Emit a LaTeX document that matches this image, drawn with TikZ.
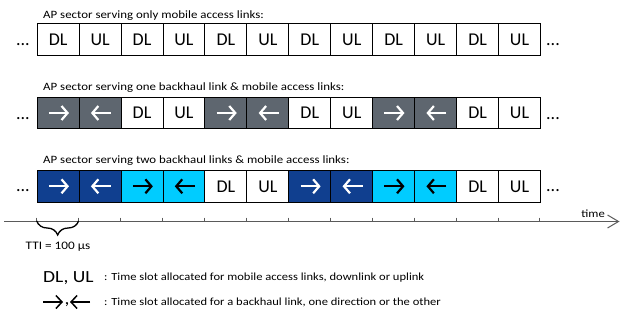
\documentclass[tikz,border=0pt]{standalone}
\usepackage{fontspec}
\setmainfont{Carlito}
\newfontfamily\widefont[FakeStretch=1.15]{Carlito}
\usetikzlibrary{arrows.meta,decorations.pathreplacing}
\definecolor{bhgrey}{RGB}{94,102,111}
\definecolor{bhblue}{RGB}{16,63,143}
\definecolor{bhcyan}{RGB}{0,204,255}
\definecolor{axisgrey}{RGB}{90,90,90}
\tikzset{
  slot/.style={draw=black, line width=1pt, minimum width=41.94pt, minimum height=31.6pt,
    inner sep=0pt, font=\fontsize{18}{20}\selectfont, anchor=north west},
  cellarrow/.style={line width=2.2pt, -{Straight Barb[length=6pt,width=14pt]}},
  legarrow/.style={line width=1.5pt, -{Straight Barb[length=6pt,width=13pt]}},
  rowtitle/.style={anchor=base west, inner sep=0pt, font=\widefont\fontsize{11.2}{13}\selectfont},
  dots/.style={inner sep=0pt, font=\fontsize{18}{20}\selectfont},
  axisline/.style={draw=axisgrey, line width=1pt, -{Straight Barb[length=11pt,width=13pt]}},
  tickline/.style={draw=axisgrey, line width=1pt},
  bracepath/.style={draw=black, line width=1.3pt, decorate,
    decoration={brace, mirror, amplitude=14pt}},
  smalltext/.style={anchor=base west, inner sep=0pt, font=\widefont\fontsize{10.9}{12}\selectfont},
  legbig/.style={anchor=base west, inner sep=0pt, font=\widefont\fontsize{17}{19}\selectfont}
}
\begin{document}
\begin{tikzpicture}[x=1pt,y=-1pt]
\useasboundingbox (0,0) rectangle (620,320);
% row titles
\node[rowtitle] (t1) at (43,18.5) {AP sector serving only mobile access links:};
\node[rowtitle] (t2) at (43,90.5) {AP sector serving one backhaul link \& mobile access links:};
\node[rowtitle] (t3) at (43,164) {AP sector serving two backhaul links \& mobile access links:};
% row 1
\foreach \lab [count=\i] in {DL,UL,DL,UL,DL,UL,DL,UL,DL,UL,DL,UL}
  \node[slot] (r1c\i) at ({36.7+(\i-1)*41.94},23) {\lab};
% row 2
\foreach \f/\tc/\dir/\lab [count=\i] in {bhgrey/white/1/{},bhgrey/white/-1/{},white/black/0/DL,white/black/0/UL,
  bhgrey/white/1/{},bhgrey/white/-1/{},white/black/0/DL,white/black/0/UL,
  bhgrey/white/1/{},bhgrey/white/-1/{},white/black/0/DL,white/black/0/UL}
{
  \node[slot, fill=\f] (r2c\i) at ({36.7+(\i-1)*41.94},96.7) {\lab};
  \ifnum\dir=0\relax\else
    \draw[cellarrow, \tc] ([xshift={0.8pt+\dir*-10pt}]r2c\i.center) -- ([xshift={0.8pt+\dir*10pt}]r2c\i.center);
  \fi
}
% row 3
\foreach \f/\tc/\dir/\lab [count=\i] in {bhblue/white/1/{},bhblue/white/-1/{},bhcyan/black/1/{},bhcyan/black/-1/{},
  white/black/0/DL,white/black/0/UL,
  bhblue/white/1/{},bhblue/white/-1/{},bhcyan/black/1/{},bhcyan/black/-1/{},
  white/black/0/DL,white/black/0/UL}
{
  \node[slot, fill=\f] (r3c\i) at ({36.7+(\i-1)*41.94},170) {\lab};
  \ifnum\dir=0\relax\else
    \draw[cellarrow, \tc] ([xshift={0.8pt+\dir*-10pt}]r3c\i.center) -- ([xshift={0.8pt+\dir*10pt}]r3c\i.center);
  \fi
}
% dots
\foreach \r/\y in {1/46,2/120,3/192}{
  \node[dots, anchor=base east] (l\r) at (30,\y) {...};
  \node[dots, anchor=base west] (d\r) at (546,\y) {...};
}
% time axis
\coordinate (a0) at (4,221.5);
\coordinate (a1) at (619.5,221.5);
\draw[axisline] (a0) -- (a1);
\foreach \i in {0,...,12}
  \draw[tickline] ({36.7+\i*41.94},217.5) -- ({36.7+\i*41.94},221.5);
\node[anchor=base east, inner sep=0pt, font=\widefont\fontsize{11}{13}\selectfont] (tm) at (605,218) {time};
% brace
\coordinate (b0) at (36.7,221);
\coordinate (b1) at (78.6,221);
\draw[bracepath] (b0) -- (b1);
\node[inner sep=0pt, font=\widefont\fontsize{11.5}{13}\selectfont] (tti) at (58,246.5) {TTI = 100 µs};
% legend
\node[legbig] (lg1) at (43,282) {DL, UL};
\node[smalltext] (lt1) at (104,280) {: Time slot allocated for mobile access links, downlink or uplink};
\coordinate (la0) at (43,302);
\coordinate (la1) at (63,302);
\draw[legarrow, black] (la0) -- (la1);
\node[legbig] (lc) at (64.5,304.5) {,};
\coordinate (lb0) at (90,302);
\coordinate (lb1) at (70,302);
\draw[legarrow, black] (lb0) -- (lb1);
\node[smalltext] (lt2) at (104,305) {: Time slot allocated for a backhaul link, one direction or the other};
\end{tikzpicture}
\end{document}
